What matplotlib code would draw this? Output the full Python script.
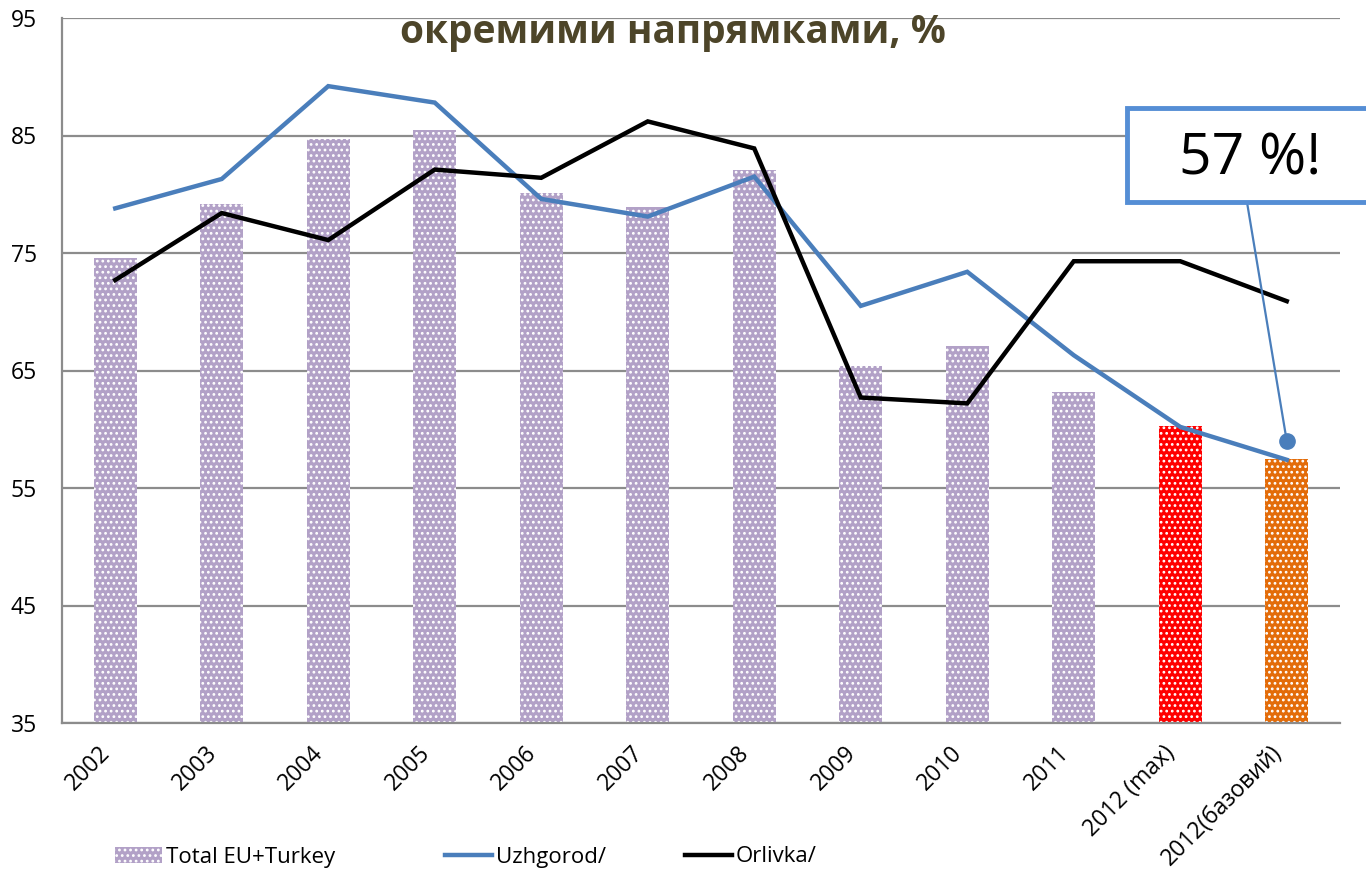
import matplotlib
matplotlib.use("Agg")
import matplotlib.pyplot as plt
from matplotlib.patches import Rectangle
from matplotlib.lines import Line2D
from matplotlib.patches import Patch

plt.rcParams['font.family'] = ['Open Sans', 'DejaVu Sans']
plt.rcParams['hatch.color'] = 'white'
plt.rcParams['hatch.linewidth'] = 1.2

categories = ['2002', '2003', '2004', '2005', '2006', '2007', '2008', '2009',
              '2010', '2011', '2012 (max)', '2012(базовий)']
total_eu_turkey = [74.6, 79.2, 84.7, 85.5, 80.1, 78.9, 82.1, 65.4, 67.1, 63.2, 60.3, 57.5]
uzhgorod = [78.8, 81.3, 89.2, 87.8, 79.6, 78.1, 81.5, 70.5, 73.4, 66.3, 60.2, 57.4]
orlivka = [72.7, 78.4, 76.1, 82.1, 81.4, 86.2, 83.9, 62.7, 62.2, 74.3, 74.3, 70.9]
bar_colors = ['#b2a1c7'] * 10 + ['#ff0000', '#e36c09']
y_ticks = [35, 45, 55, 65, 75, 85, 95]
title = 'окремими напрямками, %'
callout_text = '57 %!'
callout_value = 59.0  # marker position on value axis
callout_index = 11

fig = plt.figure(figsize=(13.66, 8.77), dpi=100)
ax = fig.add_axes([62 / 1366, 1 - 723 / 877, 1278 / 1366, 705 / 877])

x = list(range(len(categories)))
ax.bar(x, [v - 35 for v in total_eu_turkey], bottom=35, width=0.4, color=bar_colors,
       hatch='...', edgecolor='white', linewidth=0, zorder=2)
ax.plot(x, uzhgorod, color='#4a7ebb', lw=3.2, zorder=3, solid_joinstyle='miter')
ax.plot(x, orlivka, color='black', lw=3.2, zorder=3, solid_joinstyle='miter')

ax.set_xlim(-0.5, 11.5)
ax.set_ylim(35, 95)
ax.set_yticks(y_ticks)
ax.set_yticklabels([str(t) for t in y_ticks], fontsize=16.5)
ax.tick_params(axis='y', length=0, pad=18)
ax.set_xticks(x)
ax.set_xticklabels(categories, rotation=45, ha='right', fontsize=16.5)
ax.tick_params(axis='x', length=0, pad=13)
ax.grid(axis='y', color='#8c8c8c', lw=1.6, zorder=0)
ax.set_axisbelow(True)
for s in ['top', 'right']:
    ax.spines[s].set_visible(False)
ax.spines['left'].set_color('#8c8c8c')
ax.spines['left'].set_linewidth(1.6)
ax.spines['bottom'].set_color('#8c8c8c')
ax.spines['bottom'].set_linewidth(1.6)

fig.text(673 / 1366, 1 - 32 / 877, title, fontsize=28, fontweight='bold',
         color='#4d4529', ha='center', va='center')

# callout
ax.plot([callout_index], [callout_value], 'o', color='#4a7ebb', ms=11, zorder=5, clip_on=False)
ax.add_patch(Rectangle((0.8335, 0.739), 0.25, 0.133, transform=ax.transAxes,
                       facecolor='white', edgecolor='#558ed5', lw=3.5, clip_on=False, zorder=6))
ax.text(0.9296, 0.7986, callout_text, transform=ax.transAxes, fontsize=41,
        ha='center', va='center', zorder=7, color='black')
ax.annotate('', xy=(callout_index, callout_value), xycoords='data',
            xytext=(0.9272, 0.739), textcoords='axes fraction',
            arrowprops=dict(arrowstyle='-', color='#4a7ebb', lw=1.6, shrinkA=0, shrinkB=0),
            zorder=5)

handles = [Patch(facecolor='#b2a1c7', hatch='...', edgecolor='white', linewidth=0),
           Line2D([], [], color='#4a7ebb', lw=3.2),
           Line2D([], [], color='black', lw=3.2)]
labels = ['Total EU+Turkey', 'Uzhgorod/', 'Orlivka/']
legend_x = [115, 445, 685]
for h, lab, lx in zip(handles, labels, legend_x):
    fig.legend([h], [lab], loc='center left', bbox_to_anchor=(lx / 1366, 1 - 857 / 877),
               frameon=False, fontsize=16, handlelength=2.1, handletextpad=0.2,
               borderpad=0, borderaxespad=0)

fig.savefig('out.png', dpi=100)
